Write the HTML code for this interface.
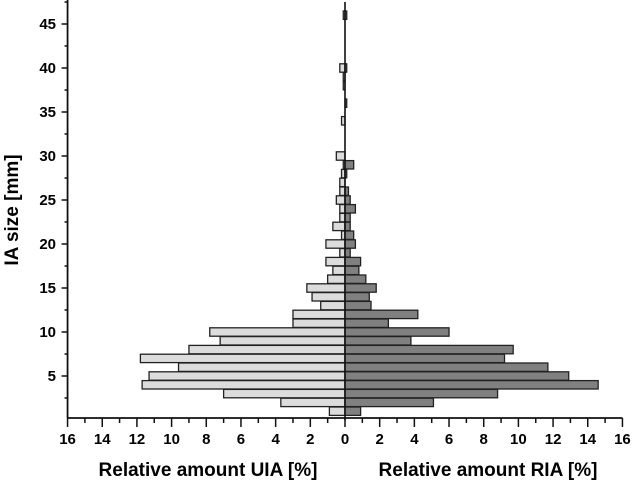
<!DOCTYPE html>
<html><head><meta charset="utf-8"><style>
body{margin:0;background:#fff}
svg{display:block;font-family:"Liberation Sans",Arial,sans-serif}
</style></head><body>
<svg id="chart" width="633" height="484" viewBox="0 0 633 484"></svg>
<script>
const sizes=[1,2,3,4,5,6,7,8,9,10,11,12,13,14,15,16,17,18,19,20,21,22,23,24,25,26,27,28,29,30,31,32,33,34,35,36,37,38,39,40,41,42,43,44,45,46];
const uiaValues=[0.9,3.7,7.0,11.7,11.3,9.6,11.8,9.0,7.2,7.8,3.0,3.0,1.4,1.9,2.2,1.0,0.7,1.1,0.3,1.1,0.2,0.7,0.3,0.3,0.5,0.3,0.3,0.2,0.1,0.5,0,0,0,0.2,0,0,0,0.1,0.1,0.3,0,0,0,0,0,0.1];
const riaValues=[0.9,5.1,8.8,14.6,12.9,11.7,9.2,9.7,3.8,6.0,2.5,4.2,1.5,1.4,1.8,1.2,0.8,0.9,0.3,0.6,0.5,0.3,0.3,0.6,0.3,0.2,0,0.1,0.5,0,0,0,0,0,0,0.1,0,0,0,0.1,0,0,0,0,0,0.1];
const xTicks=[-16,-14,-12,-10,-8,-6,-4,-2,0,2,4,6,8,10,12,14,16];
const yTicks=[5,10,15,20,25,30,35,40,45];
const NS="http://www.w3.org/2000/svg";
const svg=document.getElementById('chart');
const x=v=>345+v*17.34;
const y=v=>420-v*8.8;
function mk(t,a,p){const e=document.createElementNS(NS,t);for(const k in a)e.setAttribute(k,a[k]);(p||svg).appendChild(e);return e;}
sizes.forEach((s,i)=>{
  const u=uiaValues[i];
  if(u>0){const r=mk('rect',{x:x(-u),y:y(s)-4.2,width:x(0)-x(-u),height:8.4,fill:'#dcdcdc',stroke:'#222','stroke-width':1.3});
  
  }
  const v=riaValues[i];
  if(v>0){const r=mk('rect',{x:x(0),y:y(s)-4.2,width:x(v)-x(0),height:8.4,fill:'#808080',stroke:'#222','stroke-width':1.3});
  
  }
});
const c=mk('line',{x1:x(0),x2:x(0),y1:2,y2:y(0),stroke:'#111','stroke-width':1.6});


const xa=mk('line',{x1:x(-16),x2:x(16),y1:418,y2:418,stroke:'#111','stroke-width':1.8});


const ya=mk('line',{x1:x(-16),x2:x(-16),y1:0,y2:418,stroke:'#111','stroke-width':1.8});


for(let v=-16;v<=16;v++){mk('line',{x1:x(v),x2:x(v),y1:418,y2:v%2?423:427,stroke:'#111','stroke-width':1.5});}
xTicks.forEach(v=>{const t=mk('text',{x:x(v),y:444,'text-anchor':'middle','font-size':15,'font-weight':'bold'});t.textContent=Math.abs(v);

});
for(let v=2.5;v<=47.5;v+=2.5){mk('line',{x1:x(-16),x2:x(-16)-(v%5?3:6),y1:y(v),y2:y(v),stroke:'#111','stroke-width':1.5});}
yTicks.forEach(v=>{const t=mk('text',{x:56,y:y(v)+5,'text-anchor':'end','font-size':15,'font-weight':'bold'});t.textContent=v;

});
const t1=mk('text',{x:208,y:476,'text-anchor':'middle','font-size':19,'font-weight':'bold'});t1.textContent='Relative amount UIA [%]';


const t2=mk('text',{x:488,y:476,'text-anchor':'middle','font-size':19,'font-weight':'bold'});t2.textContent='Relative amount RIA [%]';


const t3=mk('text',{x:18,y:210,'text-anchor':'middle','font-size':19,'font-weight':'bold',transform:'rotate(-90 18 210)'});t3.textContent='IA size [mm]';


</script>
</body></html>
